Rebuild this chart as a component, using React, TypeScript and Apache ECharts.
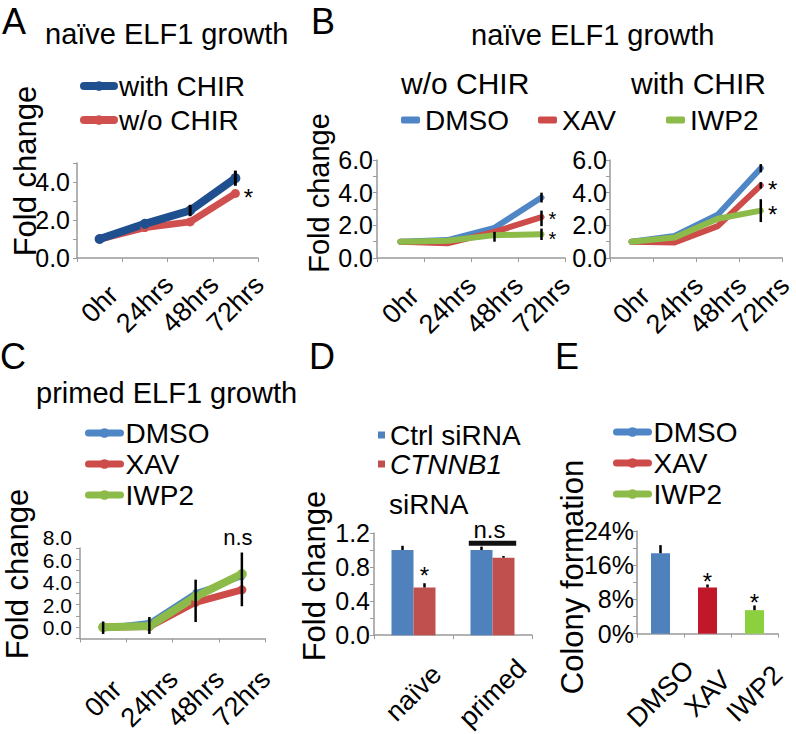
import React, { useEffect, useRef } from "react";
import * as echarts from "echarts";

const FONT = '"Liberation Sans", Arial, Helvetica, sans-serif';

// ---------- data ----------
const hours = ["0hr", "24hrs", "48hrs", "72hrs"];

// Panel A – naïve ELF1 growth
const aWithChir = [1.0, 1.8, 2.5, 4.2];
const aWithoutChir = [1.0, 1.6, 1.9, 3.4];
const aErr = [[2, 2.2, 2.8], [3, 3.8, 4.6]];
const aStars = [[3, 3.4]];

// Panel B left – w/o CHIR
const b1Dmso = [1.0, 1.1, 1.85, 3.7];
const b1Xav = [1.0, 0.9, 1.6, 2.5];
const b1Iwp2 = [1.0, 1.05, 1.4, 1.45];
const b1Err = [[2, 1.0, 1.6], [3, 3.4, 4.0], [3, 1.95, 2.9], [3, 1.1, 1.8]];
const b1Stars = [[3, 2.5], [3, 1.45]];

// Panel B right – with CHIR
const b2Dmso = [1.0, 1.35, 2.65, 5.5];
const b2Xav = [1.0, 0.95, 1.95, 4.45];
const b2Iwp2 = [1.0, 1.25, 2.4, 2.9];
const b2Err = [[3, 5.25, 5.75], [3, 4.25, 4.65], [3, 2.2, 3.6]];
const b2Stars = [[3, 4.45], [3, 2.9]];

// Panel C – primed ELF1 growth
const cDmso = [1.0, 1.45, 4.1, 5.4];
const cXav = [1.0, 1.05, 3.2, 4.3];
const cIwp2 = [1.0, 1.1, 3.7, 5.7];
const cErr = [[0, 0.4, 1.5], [1, 0.4, 1.9], [2, 1.45, 5.2], [3, 2.85, 7.6]];
const cNs = [[3, 7.6]];

// Panel D – siRNA
const dCats = ["naïve", "primed"];
const dCtrl = [1.0, 1.0];
const dCtnnb1 = [0.56, 0.91];
const dCtrlErr = [0.05, 0.04];
const dCtnnb1Err = [0.05, 0.02];
const dStars = [[0, 0.61]];
const dNs = [[1, 1.08]];

// Panel E – colony formation (%)
const eCats = ["DMSO", "XAV", "IWP2"];
const eValues = [18.8, 10.8, 5.5];
const eErr = [1.9, 0.7, 1.1];
const eStars = [[1, 11.5], [2, 6.6]];

// ---------- styles ----------
const C_BLUE = "#4f86c6";
const C_RED = "#cd4b48";
const C_GREEN = "#8dbb4a";
const A_BLUE = "#1f4f8f";
const A_RED = "#d0504f";
const D_BLUE = "#4f81bd";
const D_RED = "#c0504d";
const E_COLORS = ["#4f81bd", "#c0172b", "#8ccf3f"];
const AXIS_GRAY = "#9a9a9a";

function txtStyle(text: string, size: number, align = "center", italic = false, lineHeight?: number, vAlign = "middle") {
  const s: any = {
    text,
    fill: "#000",
    font: `${italic ? "italic " : ""}${size}px ${FONT}`,
    textAlign: align,
    textVerticalAlign: vAlign,
    align,
    verticalAlign: vAlign,
  };
  if (lineHeight) s.lineHeight = lineHeight;
  return s;
}

function xCat(gridIndex: number, data: string[], margin: number, fontSize: number) {
  return {
    type: "category",
    gridIndex,
    data,
    boundaryGap: true,
    axisLine: { show: true, lineStyle: { color: AXIS_GRAY, width: 1.5 } },
    axisTick: { show: true, alignWithLabel: false, length: 4, lineStyle: { color: AXIS_GRAY, width: 1 } },
    axisLabel: {
      interval: 0,
      rotate: 45,
      margin,
      align: "center",
      verticalAlign: "middle",
      fontSize,
      fontFamily: FONT,
      color: "#000",
    },
    splitLine: { show: false },
  };
}

function isMult(v: number, step: number) {
  const r = v / step;
  return Math.abs(r - Math.round(r)) < 1e-6;
}

function yVal(
  gridIndex: number,
  max: number,
  interval: number,
  labelEvery: number,
  fmt: (v: number) => string,
  margin: number,
  extraLabel: any = {}
) {
  return {
    type: "value",
    gridIndex,
    min: 0,
    max,
    interval,
    axisLine: { show: true, lineStyle: { color: AXIS_GRAY, width: 1.5 } },
    axisTick: { show: true, length: 4, lineStyle: { color: AXIS_GRAY, width: 1 } },
    splitLine: { show: false },
    axisLabel: {
      margin,
      fontSize: 25,
      fontFamily: FONT,
      color: "#000",
      formatter: (v: number) => (isMult(v, labelEvery) ? fmt(v) : ""),
      ...extraLabel,
    },
  };
}

function lineSeries(name: string, idx: number, data: number[], color: string, width: number, marker: boolean) {
  return {
    type: "line",
    name,
    xAxisIndex: idx,
    yAxisIndex: idx,
    data,
    symbol: marker ? "circle" : "none",
    symbolSize: width + 2,
    lineStyle: { color, width, cap: "round", join: "round" },
    itemStyle: { color },
    z: 2,
  };
}

function errSeries(idx: number, data: number[][], width: number, dx = 0) {
  return {
    type: "custom",
    xAxisIndex: idx,
    yAxisIndex: idx,
    data,
    encode: { x: 0, y: [1, 2] },
    silent: true,
    z: 5,
    renderItem: (_p: any, api: any) => {
      const lo = api.coord([api.value(0), api.value(1)]);
      const hi = api.coord([api.value(0), api.value(2)]);
      return {
        type: "line",
        shape: { x1: lo[0] + dx, y1: lo[1], x2: hi[0] + dx, y2: hi[1] },
        style: { stroke: "#000", lineWidth: width },
      };
    },
  };
}

function textMarks(idx: number, data: number[][], text: string, size: number, dx: number, dy: number, lh?: number) {
  return {
    type: "custom",
    xAxisIndex: idx,
    yAxisIndex: idx,
    data,
    encode: { x: 0, y: 1 },
    silent: true,
    z: 6,
    renderItem: (_p: any, api: any) => {
      const p = api.coord([api.value(0), api.value(1)]);
      return { type: "text", x: p[0] + dx, y: p[1] + dy, style: txtStyle(text, size, "center", false, lh) };
    },
  };
}

function gtext(text: string, x: number, y: number, size: number, align = "left", rot = 0) {
  return { type: "text", x, y, rotation: rot, silent: true, style: txtStyle(text, size, align) };
}

function buildOption() {
  const legendText = { fontSize: 28, fontFamily: FONT, color: "#000", lineHeight: 28 };
  return {
    animation: false,
    backgroundColor: "#fff",
    grid: [
      { left: 77, top: 163, width: 181, height: 95 }, // A
      { left: 377, top: 160, width: 188, height: 98 }, // B left
      { left: 610, top: 160, width: 175, height: 98 }, // B right
      { left: 80, top: 548, width: 185, height: 92 }, // C
      { left: 374, top: 533, width: 158, height: 107 }, // D
      { left: 637, top: 531, width: 141, height: 108 }, // E
    ],
    xAxis: [
      xCat(0, hours, 46, 27),
      xCat(1, hours, 47, 27),
      xCat(2, hours, 47, 27),
      xCat(3, hours, 60, 27),
      xCat(4, dCats, 58, 27),
      xCat(5, eCats, 60, 27),
    ],
    yAxis: [
      yVal(0, 5, 1, 2, (v) => v.toFixed(1), 7),
      yVal(1, 6, 1, 2, (v) => v.toFixed(1), 4),
      yVal(2, 6, 1, 2, (v) => v.toFixed(1), 3),
      yVal(3, 8, 1, 2, (v) => v.toFixed(1), 8, { fontSize: 21, verticalAlign: "bottom", lineHeight: 21 }),
      yVal(4, 1.2, 0.2, 0.4, (v) => v.toFixed(1), 4),
      yVal(5, 24, 4, 8, (v) => `${Math.round(v)}%`, 3, { fontSize: 25 }),
    ],
    legend: [
      {
        left: 80, top: 72, orient: "vertical", padding: 0, itemGap: 6, selectedMode: false,
        itemWidth: 30, itemHeight: 12, lineStyle: { width: 8 }, textStyle: legendText,
        data: ["with CHIR", "w/o CHIR"],
      },
      {
        left: 401, top: 106, orient: "horizontal", padding: 0, selectedMode: false,
        itemWidth: 19, itemHeight: 7, textStyle: legendText,
        data: [{ name: "DMSO", icon: "roundRect" }],
      },
      {
        left: 538, top: 106, orient: "horizontal", padding: 0, selectedMode: false,
        itemWidth: 19, itemHeight: 7, textStyle: legendText,
        data: [{ name: "XAV", icon: "roundRect" }],
      },
      {
        left: 666, top: 106, orient: "horizontal", padding: 0, selectedMode: false,
        itemWidth: 19, itemHeight: 7, textStyle: legendText,
        data: [{ name: "IWP2", icon: "roundRect" }],
      },
      {
        left: 85, top: 419, orient: "vertical", padding: 0, itemGap: 3, selectedMode: false,
        itemWidth: 32, itemHeight: 12, lineStyle: { width: 7 }, textStyle: legendText,
        data: ["DMSO", "XAV", "IWP2"],
      },
      {
        left: 378, top: 421, orient: "vertical", padding: 0, itemGap: 1, selectedMode: false,
        itemWidth: 7, itemHeight: 7, icon: "rect",
        formatter: (n: string) => (n === "CTNNB1 siRNA" ? "{i|CTNNB1}" : n),
        textStyle: {
          ...legendText,
          rich: { i: { fontStyle: "italic", fontSize: 28, fontFamily: FONT, color: "#000", lineHeight: 28 } },
        },
        data: ["Ctrl siRNA", "CTNNB1 siRNA"],
      },
      {
        left: 613, top: 418, orient: "vertical", padding: 0, itemGap: 3, selectedMode: false,
        itemWidth: 32, itemHeight: 12, lineStyle: { width: 7 }, textStyle: legendText,
        data: ["DMSO", "XAV", "IWP2"],
      },
    ],
    series: [
      // C (first, so that shared legend names take their style from here)
      lineSeries("DMSO", 3, cDmso, C_BLUE, 4, true),
      lineSeries("XAV", 3, cXav, C_RED, 7, true),
      lineSeries("IWP2", 3, cIwp2, C_GREEN, 8, true),
      // A
      lineSeries("w/o CHIR", 0, aWithoutChir, A_RED, 7, true),
      lineSeries("with CHIR", 0, aWithChir, A_BLUE, 8, true),
      // B left
      lineSeries("DMSO", 1, b1Dmso, C_BLUE, 6, false),
      lineSeries("XAV", 1, b1Xav, C_RED, 6, false),
      lineSeries("IWP2", 1, b1Iwp2, C_GREEN, 6, false),
      // B right
      lineSeries("DMSO", 2, b2Dmso, C_BLUE, 6, false),
      lineSeries("XAV", 2, b2Xav, C_RED, 6, false),
      lineSeries("IWP2", 2, b2Iwp2, C_GREEN, 6, false),
      // D
      {
        type: "bar", name: "Ctrl siRNA", xAxisIndex: 4, yAxisIndex: 4, data: dCtrl,
        barWidth: 22, barGap: "0%", itemStyle: { color: D_BLUE },
      },
      {
        type: "bar", name: "CTNNB1 siRNA", xAxisIndex: 4, yAxisIndex: 4, data: dCtnnb1,
        barWidth: 22, barGap: "0%", itemStyle: { color: D_RED },
      },
      // E
      {
        type: "bar", name: "Colony formation", xAxisIndex: 5, yAxisIndex: 5,
        data: eValues.map((v, i) => ({ value: v, itemStyle: { color: E_COLORS[i] } })),
        barWidth: 19,
      },
      // error bars
      errSeries(0, aErr, 3),
      errSeries(1, b1Err, 2.5),
      errSeries(2, b2Err, 2.5),
      errSeries(3, cErr, 2.5),
      errSeries(4, dCtrl.map((v, i) => [i, v, v + dCtrlErr[i]]), 2.5, -11),
      errSeries(4, dCtnnb1.map((v, i) => [i, v, v + dCtnnb1Err[i]]), 2.5, 11),
      errSeries(5, eValues.map((v, i) => [i, v, v + eErr[i]]), 2.5),
      // significance marks
      textMarks(0, aStars, "*", 24, 13, 4, 14),
      textMarks(1, [b1Stars[0]], "*", 20, 11, 1.5, 18),
      textMarks(1, [b1Stars[1]], "*", 20, 11, 4.5, 18),
      textMarks(2, b2Stars, "*", 24, 12, 4, 14),
      textMarks(4, dStars, "*", 24, 11, -8, 14),
      textMarks(5, eStars, "*", 24, 0, -3, 14),
      textMarks(3, cNs, "n.s", 22, -4, -15),
      {
        type: "custom",
        xAxisIndex: 4,
        yAxisIndex: 4,
        data: dNs,
        encode: { x: 0, y: 1 },
        silent: true,
        z: 6,
        renderItem: (_p: any, api: any) => {
          const p = api.coord([api.value(0), api.value(1)]);
          const half = api.size([1, 0])[0] * 0.3;
          return {
            type: "group",
            children: [
              { type: "line", shape: { x1: p[0] - half, y1: p[1], x2: p[0] + half, y2: p[1] }, style: { stroke: "#111", lineWidth: 5 } },
              { type: "text", x: p[0] - 3, y: p[1] - 14, style: txtStyle("n.s", 24) },
            ],
          };
        },
      },
    ],
    graphic: [
      // panel letters
      gtext("A", 2, 21.5, 36),
      gtext("B", 311, 21.5, 36),
      gtext("C", 0, 356.5, 36),
      gtext("D", 309, 356.5, 36),
      gtext("E", 555, 356.5, 36),
      // titles
      gtext("naïve ELF1 growth", 45, 34, 29),
      gtext("naïve ELF1 growth", 471, 35, 29),
      gtext("w/o CHIR", 401, 83.5, 30),
      gtext("with CHIR", 631, 83.5, 30),
      gtext("primed ELF1 growth", 36, 393, 29),
      gtext("siRNA", 389, 504, 28),
      // axis names
      gtext("Fold change", 25, 171, 31, "center", Math.PI / 2),
      gtext("Fold change", 319, 193, 29, "center", Math.PI / 2),
      gtext("Fold change", 17, 574, 31, "center", Math.PI / 2),
      gtext("Fold change", 314, 576, 31, "center", Math.PI / 2),
      gtext("Colony formation", 572, 577, 31, "center", Math.PI / 2),
    ],
  };
}

export default function App() {
  const ref = useRef<HTMLDivElement>(null);
  useEffect(() => {
    if (!ref.current) return;
    const chart = echarts.init(ref.current, undefined, { renderer: "svg" });
    chart.setOption(buildOption() as any);
    return () => chart.dispose();
  }, []);
  return (
    <div
      ref={ref}
      style={{ position: "absolute", left: 0, top: 0, width: 796, height: 734, background: "#fff" }}
    />
  );
}
